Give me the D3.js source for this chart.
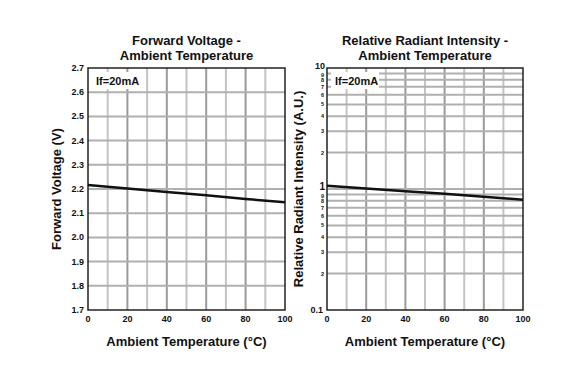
<!DOCTYPE html>
<html>
<head>
<meta charset="utf-8">
<script src="https://cdn.jsdelivr.net/npm/d3@7"></script>
<style>
  body { margin: 0; background: #fff; }
  text { font-family: "Liberation Sans", Arial, sans-serif; font-weight: bold; fill: #111; }
</style>
</head>
<body>
<svg id="chart" width="565" height="375"></svg>
<script>
/* data */
var tempX = [0, 20, 40, 60, 80, 100];
var vfValues = [2.217, 2.202, 2.188, 2.174, 2.159, 2.145];
var intensityValues = [1.065, 1.01, 0.958, 0.912, 0.862, 0.816];
var vfTicks = [1.7, 1.8, 1.9, 2.0, 2.1, 2.2, 2.3, 2.4, 2.5, 2.6, 2.7];
var xTicks = [0, 20, 40, 60, 80, 100];
var logMajor = [0.1, 1, 10];
var logMinor = [0.2, 0.3, 0.4, 0.5, 0.6, 0.7, 0.8, 0.9, 2, 3, 4, 5, 6, 7, 8, 9];

var svg = d3.select("#chart");

function panel(opts) {
	var g = svg.append("g");
	var x = d3.scaleLinear().domain([0, 100]).range([opts.left, opts.right]);
	var y = opts.y;

	/* vertical grid, alternating shades */
	d3.range(10, 100, 10).forEach(function(v) {
		g.append("line")
			.attr("x1", x(v)).attr("x2", x(v))
			.attr("y1", opts.top).attr("y2", opts.bottom)
			.attr("stroke", v % 20 == 0 ? "#9a9a9a" : "#c4c4c4")
			.attr("stroke-width", 2);
	});

	/* horizontal grid */
	opts.hLines.forEach(function(v) {
		g.append("line")
			.attr("x1", opts.left).attr("x2", opts.right)
			.attr("y1", y(v)).attr("y2", y(v))
			.attr("stroke", "#b0b0b0")
			.attr("stroke-width", 2);
	});

	/* legend box */
	g.append("rect")
		.attr("x", opts.left + 4).attr("y", opts.top + 4)
		.attr("width", 48).attr("height", 17)
		.attr("fill", "#fff");
	g.append("text")
		.attr("x", opts.left + 8).attr("y", opts.top + 17)
		.style("font-size", "11px")
		.text("If=20mA");

	/* frame */
	g.append("rect")
		.attr("x", opts.left).attr("y", opts.top)
		.attr("width", opts.right - opts.left).attr("height", opts.bottom - opts.top)
		.attr("fill", "none").attr("stroke", "#222").attr("stroke-width", 1.5);

	/* curve */
	var line = d3.line()
		.x(function(d, i) { return x(tempX[i]); })
		.y(function(d) { return y(d); });
	g.append("path")
		.datum(opts.values)
		.attr("d", line)
		.attr("fill", "none")
		.attr("stroke", "#111")
		.attr("stroke-width", 2.5);

	/* x axis labels */
	xTicks.forEach(function(v) {
		g.append("text")
			.attr("x", x(v)).attr("y", opts.bottom + 12)
			.attr("text-anchor", "middle")
			.style("font-size", "9px")
			.text(v);
	});

	/* y labels */
	opts.yLabels(g, y);

	/* titles */
	var cx = (opts.left + opts.right) / 2;
	g.append("text").attr("x", cx).attr("y", 45)
		.attr("text-anchor", "middle").style("font-size", "13px").text(opts.title[0]);
	g.append("text").attr("x", cx).attr("y", 60)
		.attr("text-anchor", "middle").style("font-size", "13px").text(opts.title[1]);
	g.append("text").attr("x", cx).attr("y", 346)
		.attr("text-anchor", "middle").style("font-size", "13px")
		.text("Ambient Temperature (°C)");
	g.append("text")
		.attr("transform", "translate(" + opts.yTitleX + "," + ((opts.top + opts.bottom) / 2) + ") rotate(-90)")
		.attr("text-anchor", "middle").style("font-size", "13px")
		.text(opts.yTitle);
}

/* left: forward voltage */
panel({
	left: 88, right: 285, top: 68, bottom: 310,
	y: d3.scaleLinear().domain([1.7, 2.7]).range([310, 68]),
	hLines: vfTicks.slice(1, -1),
	values: vfValues,
	title: ["Forward Voltage -", "Ambient Temperature"],
	yTitle: "Forward Voltage (V)",
	yTitleX: 61,
	yLabels: function(g, y) {
		vfTicks.forEach(function(v) {
			g.append("text")
				.attr("x", 84).attr("y", y(v) + 3)
				.attr("text-anchor", "end")
				.style("font-size", "9px")
				.text(d3.format(".1f")(v));
		});
	}
});

/* right: relative radiant intensity */
panel({
	left: 327, right: 523, top: 68, bottom: 310,
	y: d3.scaleLog().domain([0.1, 10]).range([310, 68]),
	hLines: logMinor.concat([1]),
	values: intensityValues,
	title: ["Relative Radiant Intensity -", "Ambient Temperature"],
	yTitle: "Relative Radiant Intensity (A.U.)",
	yTitleX: 303,
	yLabels: function(g, y) {
		logMajor.forEach(function(v) {
			g.append("text")
				.attr("x", v == 0.1 ? 323 : 325)
				.attr("y", y(v) + (v == 0.1 ? 3 : 1))
				.attr("text-anchor", "end")
				.style("font-size", v == 1 ? "10px" : "9px")
				.text(v);
		});
		logMinor.forEach(function(v) {
			g.append("text")
				.attr("x", 324).attr("y", y(v) + (v == 9 || v == 0.9 ? 3 : 2))
				.attr("text-anchor", "end")
				.style("font-size", "5.5px")
				.text(v < 1 ? Math.round(v * 10) : v);
		});
	}
});
</script>
</body>
</html>
